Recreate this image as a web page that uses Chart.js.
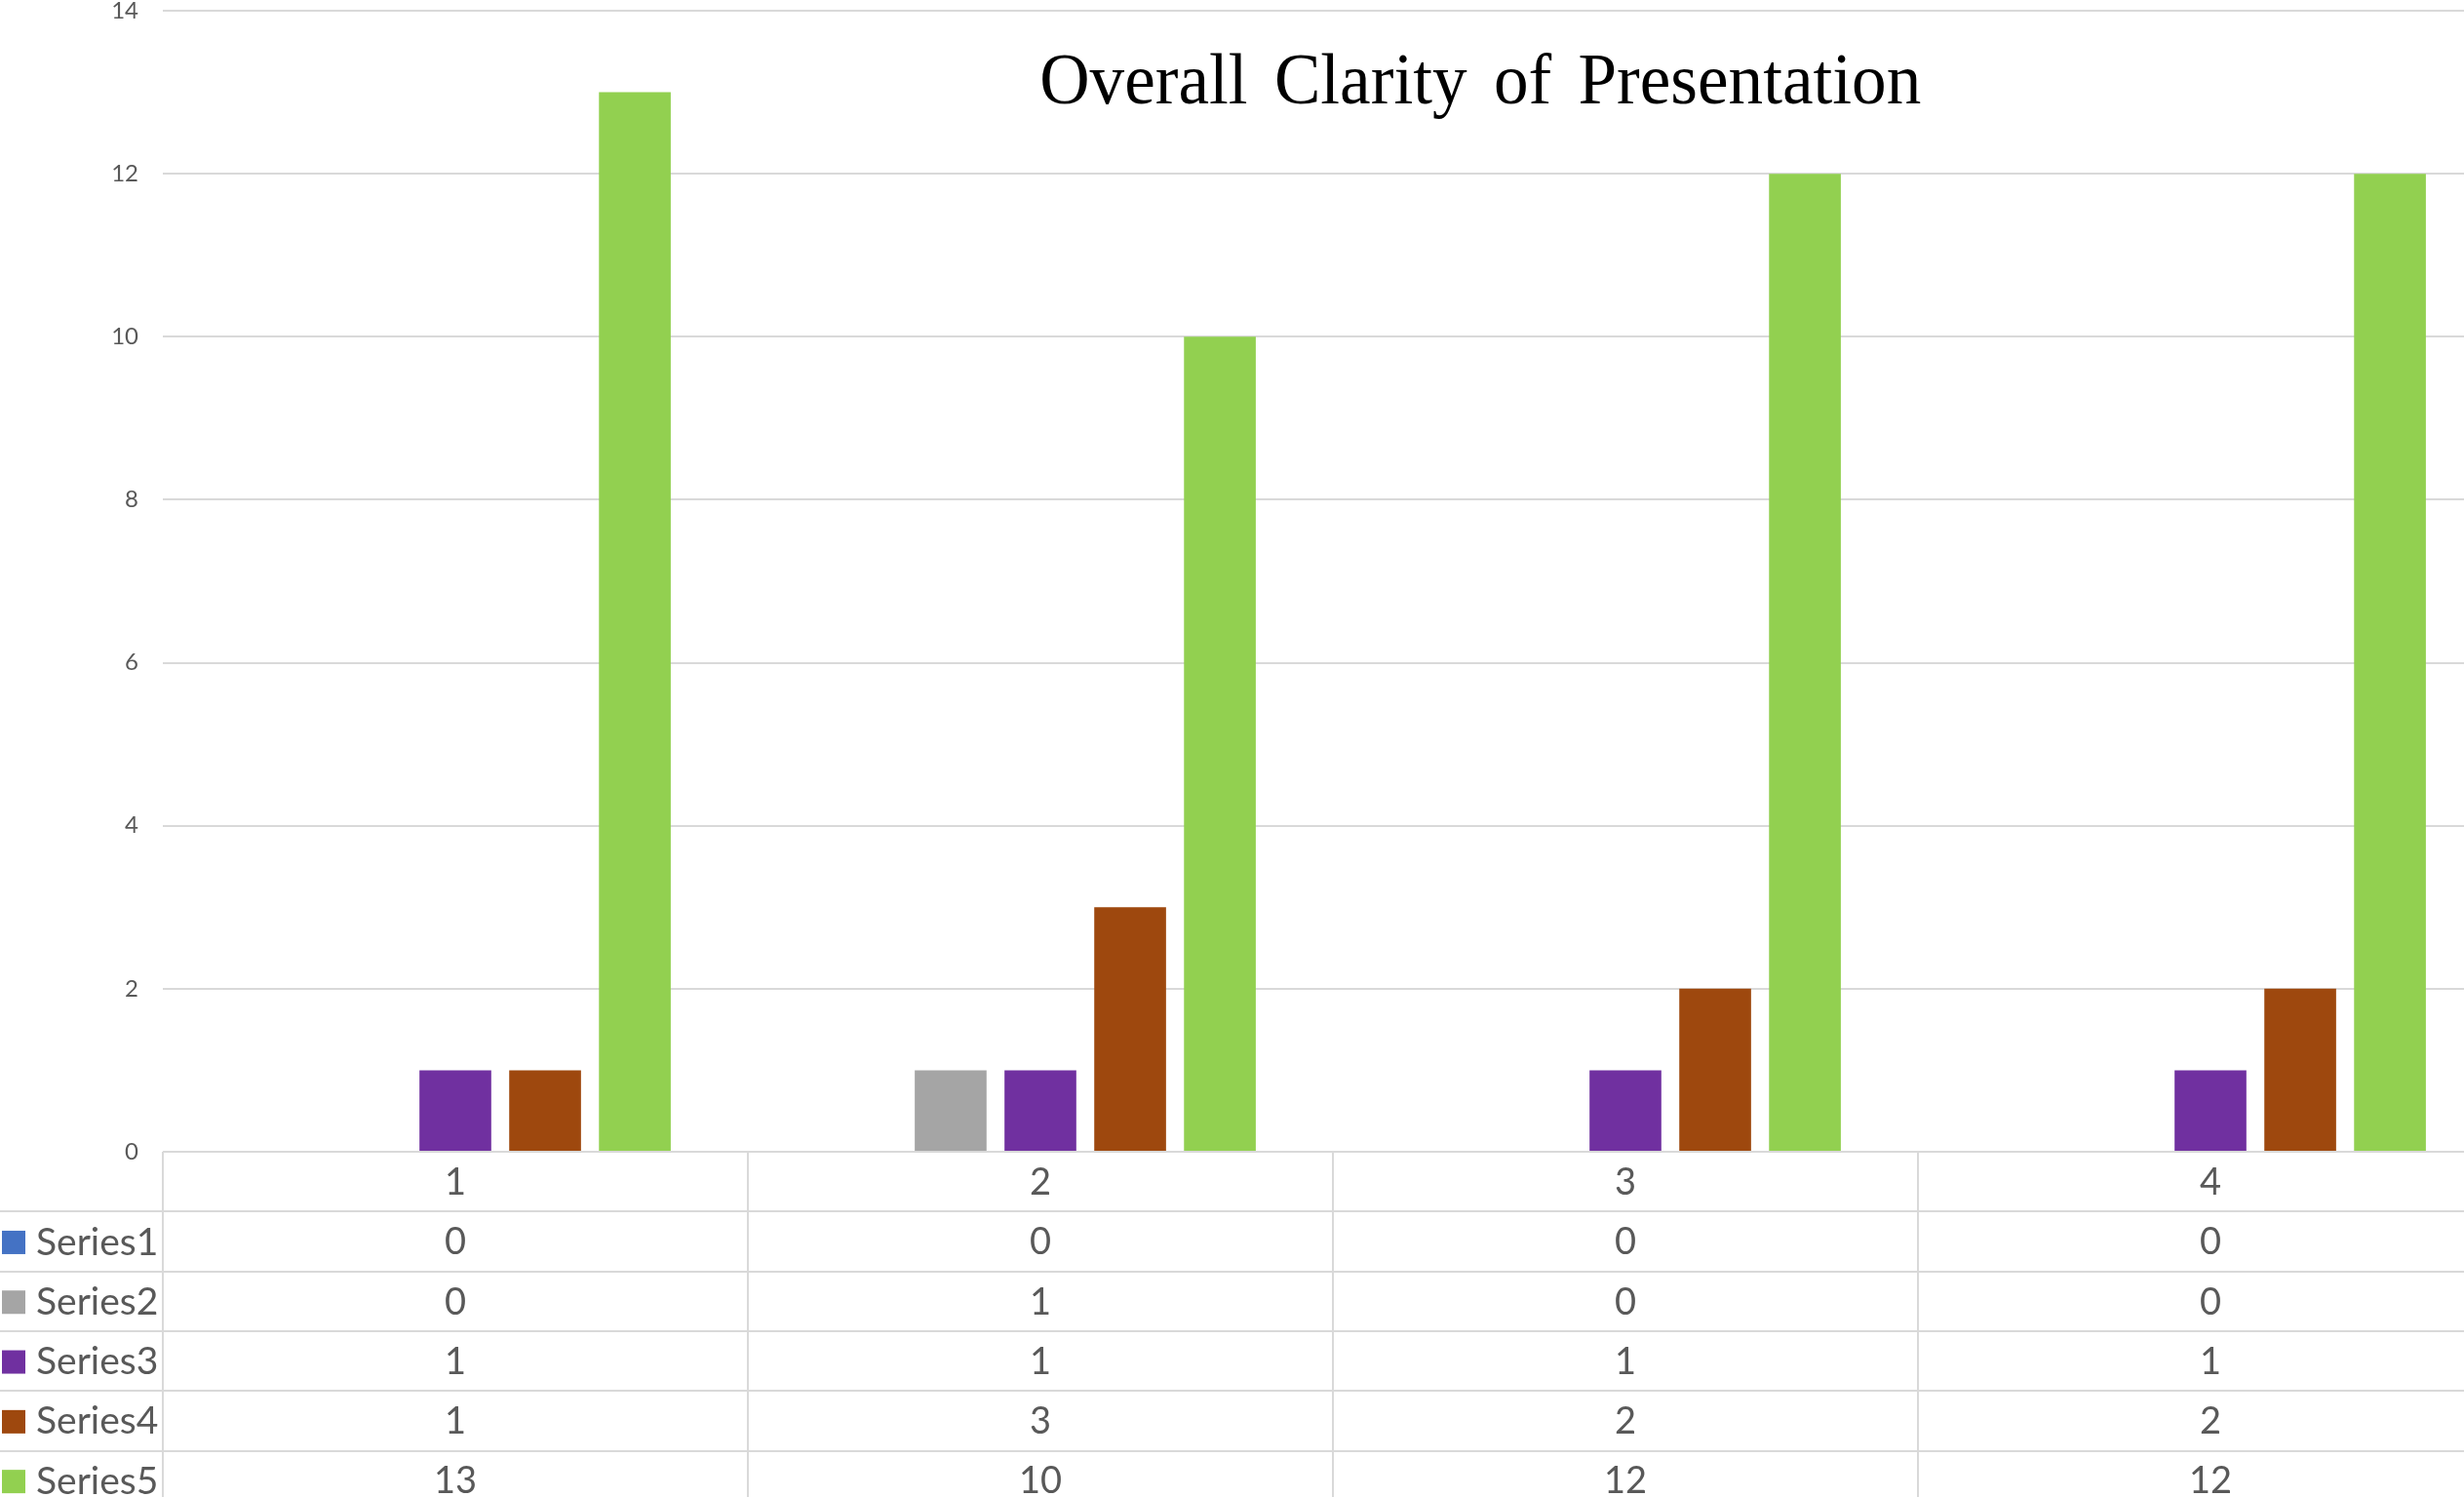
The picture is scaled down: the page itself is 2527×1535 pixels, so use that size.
<!DOCTYPE html>
<html>
<head>
<meta charset="utf-8">
<title>Overall Clarity of Presentation</title>
<script src="https://cdn.jsdelivr.net/npm/chart.js@4.4.1/dist/chart.umd.min.js"></script>
<style>
    html, body { margin: 0; padding: 0; background: #fff; overflow: hidden; }
    #wrap { width: 2580px; height: 1560px; }
</style>
</head>
<body>
<div id="wrap"><canvas id="chart" width="2580" height="1560"></canvas></div>
<script>
// chart data
const categories = ['1', '2', '3', '4'];
const seriesNames = ['Series1', 'Series2', 'Series3', 'Series4', 'Series5'];
const series1 = [0, 0, 0, 0];
const series2 = [0, 1, 0, 0];
const series3 = [1, 1, 1, 1];
const series4 = [1, 3, 2, 2];
const series5 = [13, 10, 12, 12];
const yTicks = [0, 2, 4, 6, 8, 10, 12, 14];

const colors = ['#4472C4', '#A5A5A5', '#7030A0', '#9E480E', '#92D050'];
const gridColor = '#d9d9d9';
const textColor = '#595959';
const titleText = 'Overall Clarity of Presentation';

const allSeries = [series1, series2, series3, series4, series5];

// draws the data table under the plot, the legend keys and the title
const dataTablePlugin = {
    id: 'dataTable',
    afterDraw(chart) {
        const { ctx, chartArea, scales: { x } } = chart;
        const rowH = 61.3;
        const top = chartArea.bottom;
        const rows = chart.data.datasets.length + 1;
        const step = x.getPixelForValue(1) - x.getPixelForValue(0);

        ctx.save();
        ctx.strokeStyle = gridColor;
        ctx.lineWidth = 2;
        for (let r = 0; r <= rows; r++) {
            const y = Math.round(top + r * rowH);
            ctx.beginPath();
            ctx.moveTo(r === 0 ? chartArea.left : 0, y);
            ctx.lineTo(chartArea.right, y);
            ctx.stroke();
        }
        for (let i = 0; i <= categories.length; i++) {
            const px = Math.round(x.getPixelForValue(0) - step / 2 + i * step);
            ctx.beginPath();
            ctx.moveTo(px, top);
            ctx.lineTo(px, top + rows * rowH);
            ctx.stroke();
        }

        ctx.font = '38px Lato';
        ctx.fillStyle = textColor;
        ctx.textBaseline = 'middle';
        ctx.textAlign = 'center';
        categories.forEach((c, i) => {
            ctx.fillText(c, x.getPixelForValue(i), top + rowH / 2 + 1);
        });

        chart.data.datasets.forEach((ds, r) => {
            const cy = top + (r + 1.5) * rowH + 1;
            ctx.fillStyle = ds.backgroundColor;
            ctx.fillRect(2, cy - 12, 24, 24);
            ctx.fillStyle = textColor;
            ctx.textAlign = 'left';
            ctx.font = '39px Lato';
            ctx.fillText(ds.label, 37, cy);
            ctx.font = '38px Lato';
            ctx.textAlign = 'center';
            ds.data.forEach((v, i) => {
                ctx.fillText(String(v), x.getPixelForValue(i), cy);
            });
        });

        // title: serif, slightly condensed, wide word gaps
        ctx.font = '74px "Liberation Serif"';
        ctx.wordSpacing = '10px';
        ctx.fillStyle = '#000';
        ctx.textAlign = 'center';
        ctx.textBaseline = 'alphabetic';
        const w = ctx.measureText(titleText).width;
        ctx.translate(chartArea.left + chartArea.width * 0.5630, 106);
        ctx.scale(904 / w, 1);
        ctx.fillText(titleText, 0, 0);
        ctx.restore();
    }
};

function initializeChart() {
    const ctx = document.getElementById('chart').getContext('2d');
    new Chart(ctx, {
        type: 'bar',
        data: {
            labels: categories,
            datasets: seriesNames.map((name, i) => ({
                label: name,
                data: allSeries[i],
                backgroundColor: colors[i],
                categoryPercentage: 0.767,
                barPercentage: 0.8
            }))
        },
        options: {
            responsive: false,
            animation: false,
            layout: {
                padding: { left: 0, top: 11, right: 13, bottom: 379 }
            },
            plugins: {
                legend: { display: false },
                title: { display: false },
                tooltip: { enabled: false }
            },
            scales: {
                x: {
                    display: false
                },
                y: {
                    min: 0,
                    max: 14,
                    afterFit(scale) {
                        scale.width = 167;
                        scale.paddingTop = 0;
                        scale.paddingBottom = 0;
                    },
                    afterBuildTicks(scale) {
                        scale.ticks = yTicks.map(v => ({ value: v }));
                    },
                    border: { display: false },
                    grid: {
                        color: gridColor,
                        lineWidth: 2,
                        drawTicks: false
                    },
                    ticks: {
                        color: textColor,
                        padding: 25,
                        font: { family: 'Lato', size: 24 }
                    }
                }
            }
        },
        plugins: [dataTablePlugin]
    });
}

document.addEventListener('DOMContentLoaded', () => {
    initializeChart();
});
</script>
</body>
</html>
